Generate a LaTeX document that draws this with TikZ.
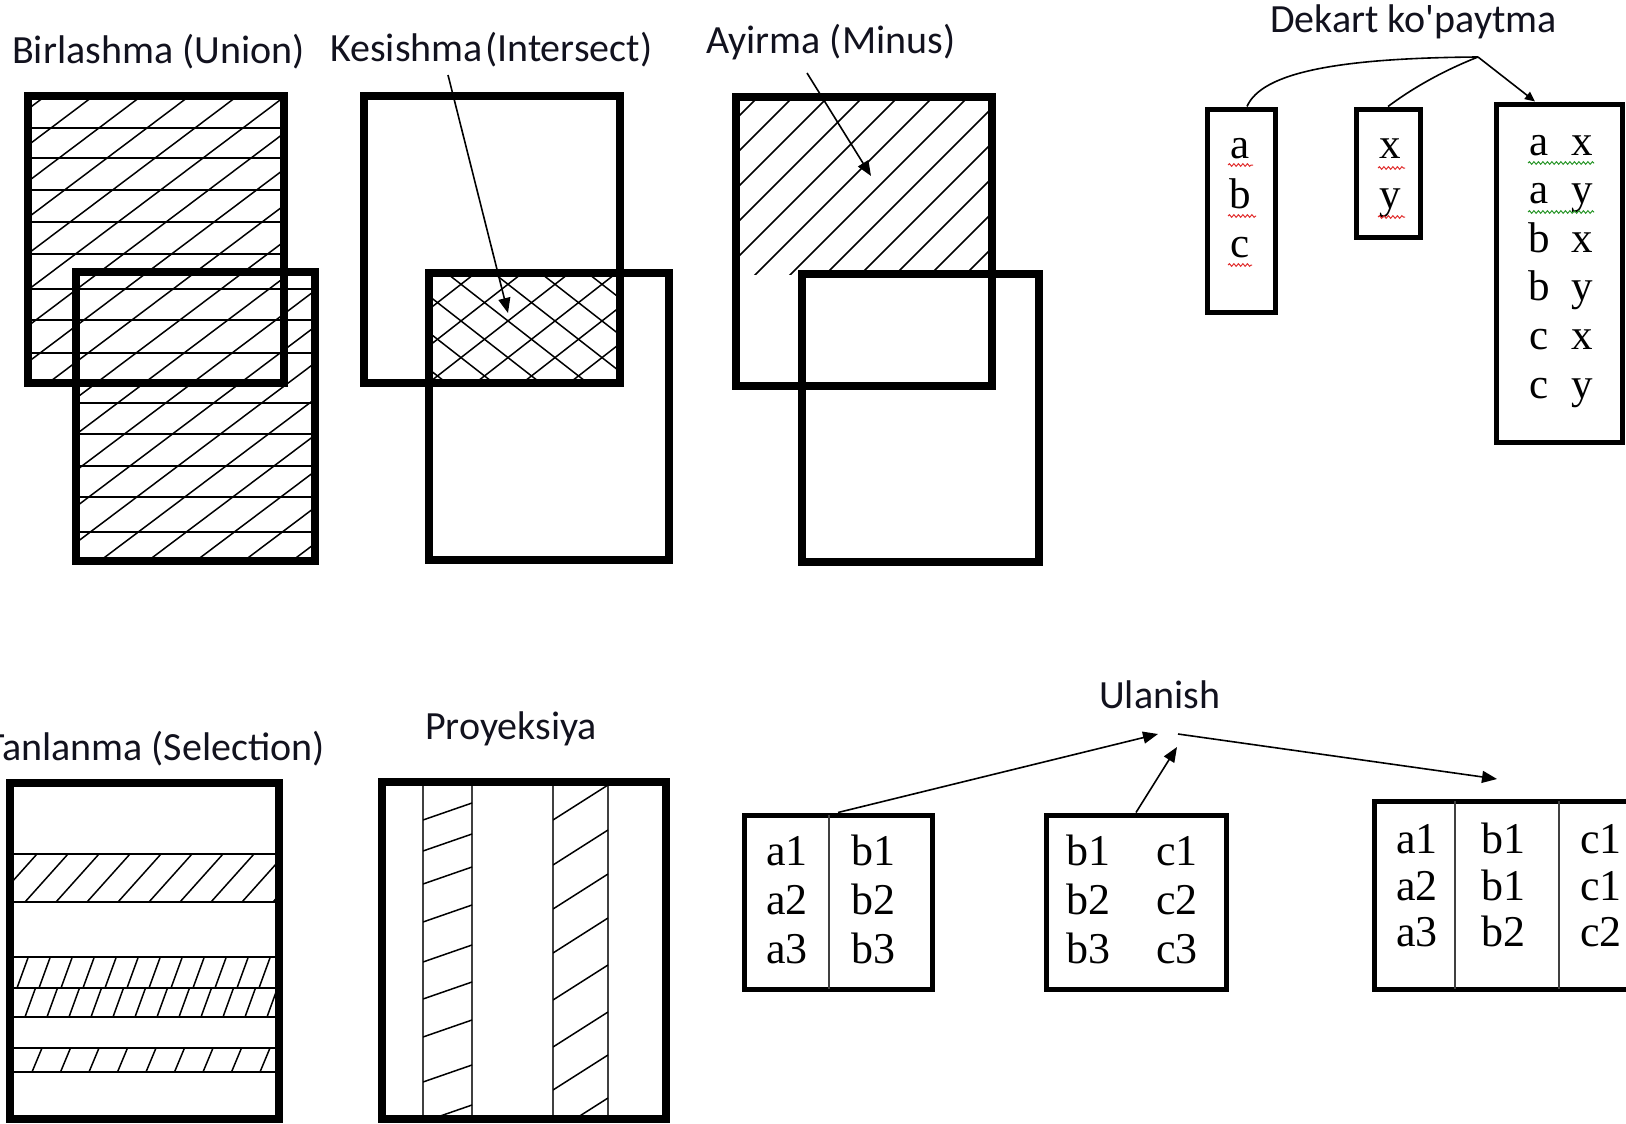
\documentclass[tikz,border=0pt]{standalone}
\usepackage{fontspec}
\setmainfont{Liberation Serif}
\newfontfamily\titlefont{Carlito}
\usetikzlibrary{arrows.meta,decorations.pathmorphing}
\definecolor{titlecol}{RGB}{18,18,30}
\definecolor{squigred}{RGB}{225,45,45}
\definecolor{squiggreen}{RGB}{40,150,40}
\tikzset{
  setbox/.style={line width=7.5pt},
  tblbox/.style={draw, line width=5pt, inner sep=0pt},
  hatch/.style={line width=1.5pt},
  divline/.style={line width=2.2pt, black!75},
  conn/.style={line width=1.6pt},
  arr/.style={conn,-{Triangle[length=15pt,width=12pt]}},
  smallarr/.style={conn,-{Triangle[length=10pt,width=9pt]}},
  title/.style={font=\titlefont\fontsize{40}{48}\selectfont, inner sep=0pt, text=titlecol},
  cell/.style={font=\fontsize{44}{49}\selectfont, inner sep=0pt, anchor=base},
  dcell/.style={font=\fontsize{43}{48}\selectfont, inner sep=0pt, anchor=base},
  squig/.style={decorate, decoration={snake, amplitude=1.3pt, segment length=4.5pt}, line width=1pt},
}
\begin{document}
\begin{tikzpicture}[x=1pt,y=-1pt]
\useasboundingbox (0,0) rectangle (1626,1124);
\fill[white] (0,0) rectangle (1626,1124);

% ---------------- Titles
\node[title, anchor=base west] (tUnion) at (12,64) {Birlashma (Union)};
\node[title, anchor=base west] (tInter) at (330,62) {Kesishma\hspace{0.06em}(Intersect)};
\node[title, anchor=base west] (tMinus) at (706,54) {Ayirma (Minus)};
\node[title, anchor=base west] (tDekart) at (1270,33) {Dekart ko\textquotesingle paytma};
\node[title, anchor=base east] (tSel) at (325,760) {Tanlanma (Selection)};
\node[title, anchor=base west] (tProj) at (425,739) {Proyeksiya};
\node[title, anchor=base west] (tJoin) at (1099,708) {Ulanish};

% ---------------- Union
\begin{scope}
  \clip (28,96) rectangle (284,383) (76,272) rectangle (315,561);
  \foreach \yy in {128,158,190,222,254,289,320,353,403,434,466,497,532}
    \draw[hatch] (0,\yy) -- (400,\yy);
  \foreach \xx in {-720,-672,...,420}
    \draw[hatch] (\xx,600) -- ++(700,-527);
\end{scope}
\draw[setbox] (28,96) rectangle (284,383);
\draw[setbox] (76,272) rectangle (315,561);

% ---------------- Intersect
\begin{scope}
  \clip (429,273) rectangle (620,383);
  \foreach \xx in {240,287,...,700}
    \draw[hatch] (\xx,420) -- ++(200,-156);
  \foreach \xx in {400,447,...,900}
    \draw[hatch] (\xx,420) -- ++(-200,-156);
\end{scope}
\draw[setbox] (364,96) rectangle (620,383);
\draw[setbox] (429,273) rectangle (669,560);
\coordinate (kesA) at (448,75);
\coordinate (kesB) at (508,313);
\draw[arr] (kesA) -- (kesB);

% ---------------- Minus
\begin{scope}
  \clip (736,97) rectangle (992,274);
  \foreach \xx in {450,485,...,1000}
    \draw[hatch] (\xx,300) -- ++(250,-250);
\end{scope}
\draw[setbox] (736,97) rectangle (992,386);
\draw[setbox] (802,274) rectangle (1039,562);
\coordinate (minA) at (807,73);
\coordinate (minB) at (871,176);
\draw[arr] (minA) -- (minB);

% ---------------- Dekart
\node[tblbox, minimum width=68pt, minimum height=203pt] (dA) at (1241,210.5) {};
\node[tblbox, minimum width=64pt, minimum height=128pt] (dX) at (1388,173) {};
\node[tblbox, minimum width=126pt, minimum height=338pt] (dR) at (1559,273) {};
\foreach \t/\yy [count=\i] in {a/158,b/208,c/257}
  \node[dcell] (dA\i) at (1240,\yy) {\t};
\foreach \t/\yy [count=\i] in {x/158,y/208}
  \node[dcell] (dX\i) at (1390,\yy) {\t};
\foreach \l/\r [count=\i] in {a/x,a/y,b/x,b/y,c/x,c/y}{
  \node[dcell] (dRl\i) at ({1539},{106.4+48.6*\i}) {\l};
  \node[dcell] (dRr\i) at ({1582},{106.4+48.6*\i}) {\r};
}
\draw[squig, squigred] (1228,165) -- (1253,165);
\draw[squig, squigred] (1228,216) -- (1256,216);
\draw[squig, squigred] (1228,265) -- (1252,265);
\draw[squig, squigred] (1378,168) -- (1405,168);
\draw[squig, squigred] (1378,217) -- (1405,217);
\draw[squig, squiggreen] (1528,163) -- (1594,163);
\draw[squig, squiggreen] (1528,212) -- (1594,212);
\coordinate (dj) at (1478,57);
\draw[conn] ([xshift=6pt]dA.north) .. controls (1262,72) and (1340,58) .. (dj);
\draw[conn] (dX.north) .. controls (1410,90) and (1440,72) .. (dj);
\draw[smallarr] (dj) -- ([xshift=-24pt]dR.north);

% ---------------- Selection
\foreach \yy in {854,902,957,988,1017,1048,1072}
  \draw[hatch] (10,\yy) -- (279,\yy);
\begin{scope}
  \clip (10,854) rectangle (279,902);
  \foreach \xx in {-37,-6,...,300}
    \draw[hatch] (\xx,902) -- ++(43,-48);
\end{scope}
\begin{scope}
  \clip (10,957) rectangle (279,988);
  \foreach \xx in {-5,17,...,300}
    \draw[hatch] (\xx,988) -- ++(11.3,-31);
\end{scope}
\begin{scope}
  \clip (10,988) rectangle (279,1017);
  \foreach \xx in {3,25,...,300}
    \draw[hatch] (\xx,1017) -- ++(10.5,-29);
\end{scope}
\begin{scope}
  \clip (10,1048) rectangle (279,1072);
  \foreach \xx in {3.5,32,...,300}
    \draw[hatch] (\xx,1072) -- ++(10,-24);
\end{scope}
\draw[setbox] (10,783) rectangle (279,1119);

% ---------------- Projection
\foreach \xx in {423,472,553,608}
  \draw[divline] (\xx,782) -- (\xx,1119);
\begin{scope}
  \clip (423,782) rectangle (472,1119);
  \foreach \yy in {820,851,884,922,962,999,1037,1082,1122}
    \draw[hatch] (423,\yy) -- ++(49,-17);
\end{scope}
\begin{scope}
  \clip (553,782) rectangle (608,1119);
  \foreach \yy in {820,865,909,953,1000,1047,1090,1133}
    \draw[hatch] (553,\yy) -- ++(55,-35);
\end{scope}
\draw[setbox] (382,782) rectangle (666,1119);

% ---------------- Join
\node[tblbox, minimum width=188pt, minimum height=174pt] (j1) at (838,902) {};
\node[tblbox, minimum width=180pt, minimum height=174pt] (j2) at (1136,902) {};
\node[tblbox, minimum width=276pt, minimum height=188pt] (j3) at (1512,895) {};
\draw[divline] (829,815) -- (829,989);
\draw[divline] (1455,801) -- (1455,989);
\draw[divline] (1559,801) -- (1559,989);
\foreach \l/\r/\yy [count=\i] in {a1/b1/865,a2/b2/914,a3/b3/963}{
  \node[cell] (j1l\i) at (787,\yy) {\l};
  \node[cell] (j1r\i) at (873,\yy) {\r};
}
\foreach \l/\r/\yy [count=\i] in {b1/c1/865,b2/c2/914,b3/c3/963}{
  \node[cell] (j2l\i) at (1088,\yy) {\l};
  \node[cell] (j2r\i) at (1177,\yy) {\r};
}
\foreach \a/\b/\c/\yy [count=\i] in {a1/b1/c1/853,a2/b1/c1/900,a3/b2/c2/946}{
  \node[cell] (j3a\i) at (1417,\yy) {\a};
  \node[cell] (j3b\i) at (1503,\yy) {\b};
  \node[cell] (j3c\i) at (1601,\yy) {\c};
}
\coordinate (uj1) at (1158,734);
\coordinate (uj2) at (1177,747);
\coordinate (uj3) at (1178,734);
\coordinate (uend) at (1497,779);
\draw[arr] (j1.north) -- (uj1);
\draw[arr] (j2.north) -- (uj2);
\draw[arr] (uj3) -- (uend);
\end{tikzpicture}
\end{document}
